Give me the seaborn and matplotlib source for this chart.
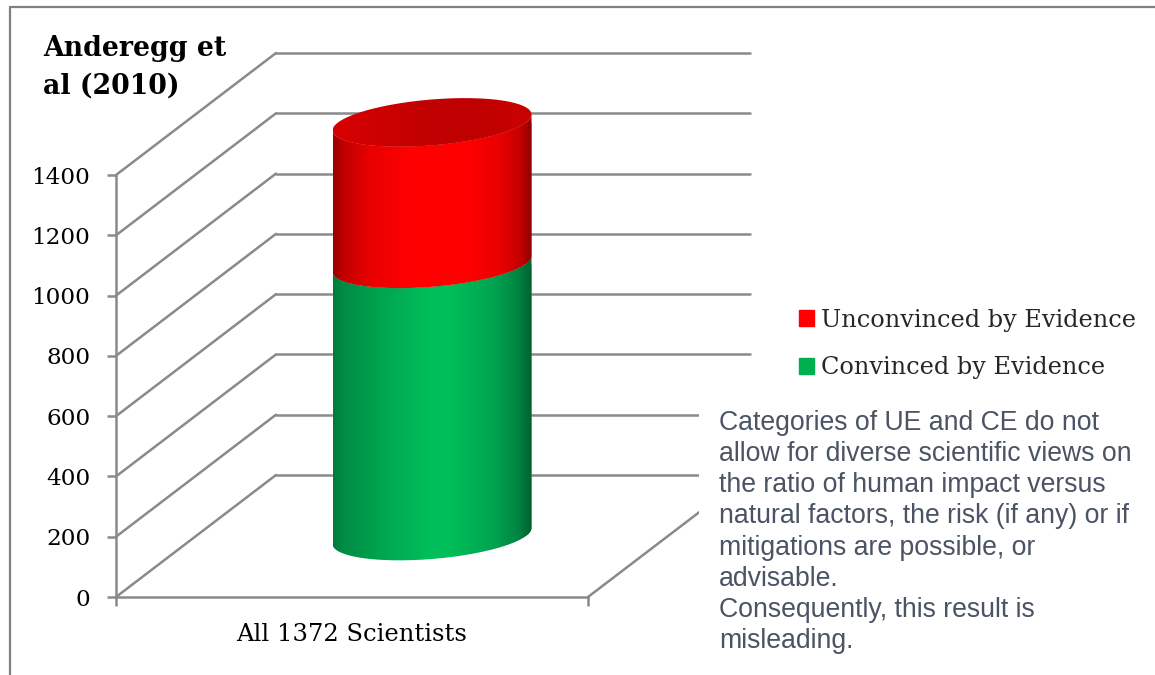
import numpy as np
import pandas as pd
import matplotlib
matplotlib.use("Agg")
import matplotlib.pyplot as plt
import seaborn as sns
from matplotlib.colors import LinearSegmentedColormap
from matplotlib.lines import Line2D
from matplotlib.patches import Patch, Rectangle
from matplotlib.path import Path

categories = ["All 1372 Scientists"]
convinced = [903]
unconvinced = [469]
y_ticks = [0, 200, 400, 600, 800, 1000, 1200, 1400]
series_names = ["Unconvinced by Evidence", "Convinced by Evidence"]
title_text = "Anderegg et\nal (2010)"
note_text = ("Categories of UE and CE do not\n"
             "allow for diverse scientific views on\n"
             "the ratio of human impact versus\n"
             "natural factors, the risk (if any) or if\n"
             "mitigations are possible, or\n"
             "advisable.\n"
             "Consequently, this result is\n"
             "misleading.")

W, H = 1155, 675
GRID = "#8a8a8a"
SERIF = "DejaVu Serif"

sns.set_theme(style="white")
plt.rcParams["font.family"] = ["DejaVu Serif"]


def px_box(left, top, right, bottom):
    return [left / W, 1 - bottom / H, (right - left) / W, (bottom - top) / H]


def lower_edge(cx, a, y, tilt, b):
    t = np.linspace(np.pi, 2 * np.pi, 120)
    return np.column_stack([cx + a * np.cos(t), y + tilt * np.cos(t) + b * np.sin(t)])


def shade(ax, points, colors, x0, x1, y0, y1):
    # 横方向のグラデーションを円柱の形で切り抜く
    path = Path(np.vstack([points, points[:1]]))
    cmap = LinearSegmentedColormap.from_list("cyl", colors)
    im = ax.imshow(np.linspace(0, 1, 256).reshape(1, -1), cmap=cmap, aspect="auto",
                   extent=[x0, x1, y0, y1], interpolation="bilinear", zorder=3)
    im.set_clip_path(path, ax.transData)


fig = plt.figure(figsize=(W / 100, H / 100), dpi=100, facecolor="white")

# main axes: wall and floor
ax = fig.add_axes(px_box(116, 175, 588, 597))
df = pd.DataFrame({"group": categories, "convinced": convinced, "unconvinced": unconvinced})
sns.barplot(data=df, x="group", y="convinced", ax=ax, alpha=0)
ax.set_xlim(-0.5, 0.5)
ax.set_ylim(0, 1400)
ax.set_xlabel("")
ax.set_ylabel("")
ax.set_yticks(y_ticks)
ax.set_xticks([0], categories)
ax.set_xticks([-0.5, 0.5], minor=True)
for s in ["top", "right"]:
    ax.spines[s].set_visible(False)
for s in ["left", "bottom"]:
    ax.spines[s].set_color(GRID)
    ax.spines[s].set_linewidth(1.8)
ax.tick_params(axis="y", left=True, length=6.5, width=1.8, color=GRID, labelsize=16.7,
               labelcolor="black", pad=12)
ax.tick_params(axis="x", which="major", bottom=False, labelsize=17.5, labelcolor="black", pad=13)
ax.tick_params(axis="x", which="minor", bottom=True, length=6.5, width=1.8, color=GRID)

dx = 160 / 472
dy = 122 * 1400 / 422
for v in y_ticks:
    ax.plot([-0.5, -0.5 + dx], [v, v + dy], color=GRID, lw=1.8, clip_on=False, solid_capstyle="round")
    ax.plot([-0.5 + dx, 0.5 + dx + 2 / 472], [v + dy, v + dy], color=GRID, lw=1.8, clip_on=False)
ax.plot([0.5, 0.5 + dx], [0, dy], color=GRID, lw=1.8, clip_on=False)

# bars stand half way into the depth
bar_ax = fig.add_axes(px_box(196, 175 - 61 - 60, 668, 597 - 61 + 60))
bar_ax.patch.set_alpha(0)
sns.barplot(x=categories, y=convinced, ax=bar_ax, color="#00b050", width=199 / 472, saturation=1)
sns.barplot(x=categories, y=unconvinced, bottom=convinced, ax=bar_ax, color="#ff0000",
            width=199 / 472, saturation=1)
bar_ax.set_xlim(-0.5, 0.5)
bar_ax.set_ylim(-60 * 1400 / 422, 1400 + 60 * 1400 / 422)
bar_ax.axis("off")

green_shades = [(0, "#007a3c"), (0.04, "#008a44"), (0.25, "#00a650"), (0.5, "#00c05b"), (0.58, "#00bf5a"),
                (0.8, "#00a550"), (0.93, "#008543"), (1, "#00602f")]
red_shades = [(0, "#9a0000"), (0.05, "#c00000"), (0.18, "#e80000"), (0.38, "#ff0000"), (0.68, "#ff0000"),
              (0.85, "#e80000"), (0.95, "#c00000"), (1, "#8a0000")]
cap_shades = [(0, "#d80000"), (0.25, "#cc0000"), (0.5, "#c00000"), (0.75, "#c00000"), (1, "#cc0000")]

tilt, b = 8 * 1400 / 422, 23 * 1400 / 422
for bar, colors in zip(bar_ax.patches, [green_shades, red_shades]):
    x0, w, y0, h = bar.get_x(), bar.get_width(), bar.get_y(), bar.get_height()
    cx, a = x0 + w / 2, w / 2
    outline = np.vstack([lower_edge(cx, a, y0, tilt, b), lower_edge(cx, a, y0 + h, tilt, b)[::-1]])
    bar.set_clip_path(Path(np.vstack([outline, outline[:1]])), bar_ax.transData)
    shade(bar_ax, outline, colors, x0, x0 + w, y0 - 2 * b, y0 + h + 2 * b)

top = bar_ax.patches[1]
x0, w, y1 = top.get_x(), top.get_width(), top.get_y() + top.get_height()
t = np.linspace(0, 2 * np.pi, 240)
cap = np.column_stack([x0 + w / 2 + w / 2 * np.cos(t), y1 + tilt * np.cos(t) + b * np.sin(t)])
shade(bar_ax, cap, cap_shades, x0, x0 + w, y1 - 2 * b, y1 + 2 * b)
bar_ax.set_xlim(-0.5, 0.5)
bar_ax.set_ylim(-60 * 1400 / 422, 1400 + 60 * 1400 / 422)

# white box behind the note hides the lower part of the wall
fig.add_artist(Rectangle((699 / W, 1 - 660 / H), 440 / W, 260 / H, transform=fig.transFigure,
                         facecolor="white", edgecolor="none", zorder=1))

# outer frame, top and left only
fig.add_artist(Line2D([9.5 / W, 1], [1 - 7 / H, 1 - 7 / H], color="#808080", lw=1.6))
fig.add_artist(Line2D([9.5 / W, 9.5 / W], [1 - 7 / H, 0], color="#808080", lw=1.6))

fig.text(43 / W, 1 - 67 / H, title_text, fontsize=19.3, fontweight="bold", color="black",
         va="center", ha="left", linespacing=1.5, family=SERIF)

leg = fig.legend(handles=[Patch(color="#ff0000", label=series_names[0]),
                          Patch(color="#00b050", label=series_names[1])],
                 loc="upper left", bbox_to_anchor=(799 / W, 1 - 308.5 / H), bbox_transform=fig.transFigure,
                 frameon=False, borderpad=0, borderaxespad=0, fontsize=17.3,
                 handlelength=0.62, handleheight=0.62, handletextpad=0.3, labelspacing=1.04)
leg.set_zorder(3)

fig.text(719 / W, 1 - 532 / H, note_text, fontsize=19.2, color="#4a5464", ha="left", va="center",
         family="Liberation Sans", linespacing=1.263, zorder=3)

fig.savefig("out.png", dpi=100)
